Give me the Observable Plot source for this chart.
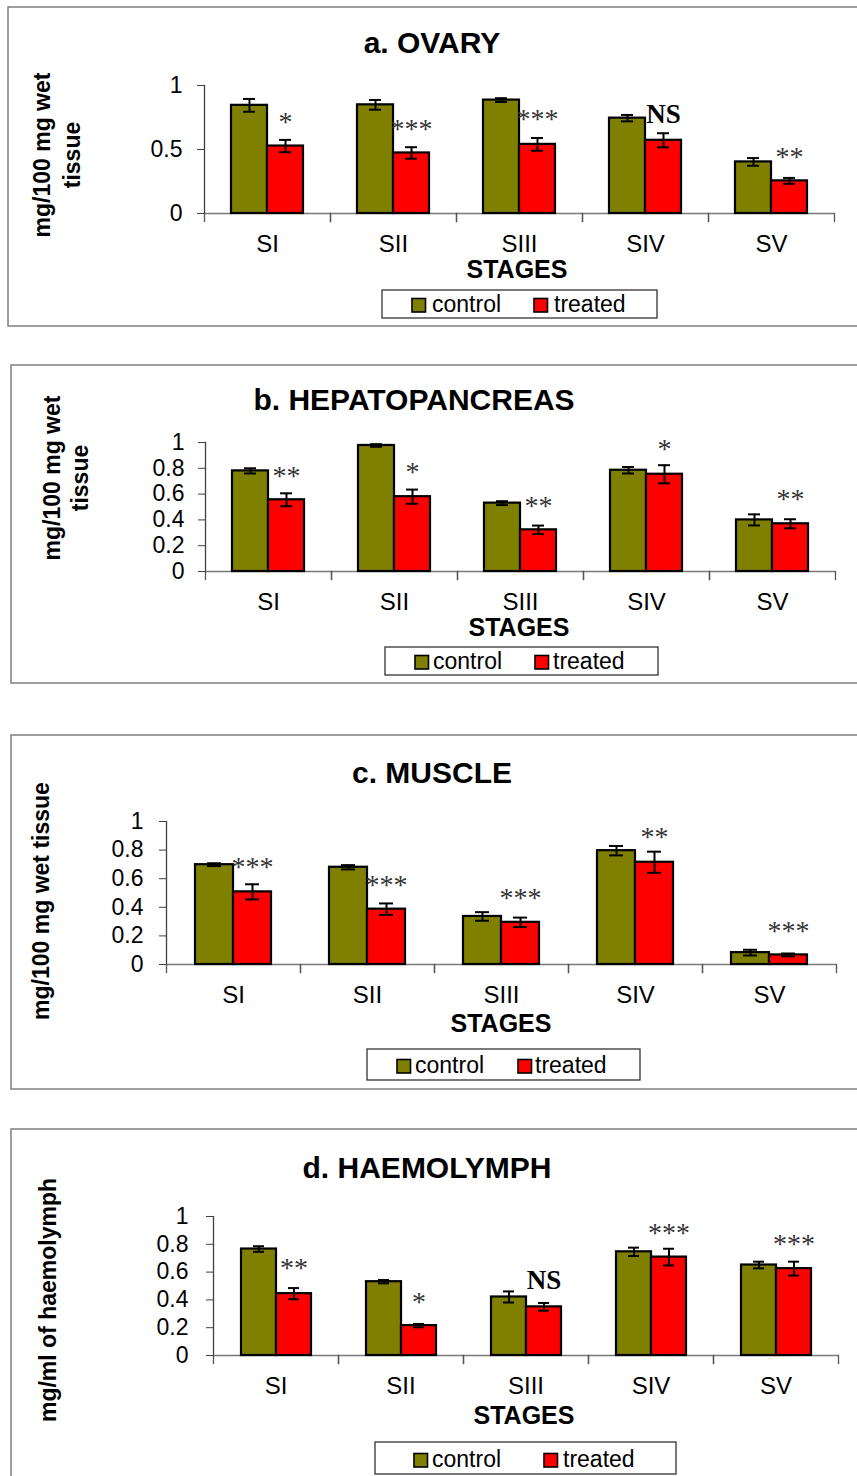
<!DOCTYPE html>
<html><head><meta charset="utf-8">
<script src="https://cdn.jsdelivr.net/npm/d3@7"></script>
<script src="https://cdn.jsdelivr.net/npm/@observablehq/plot@0.6"></script>
<style>
html,body{margin:0;padding:0;background:#fff;}
#page{position:relative;width:857px;height:1476px;overflow:hidden;font-family:"Liberation Sans",Arial,sans-serif;}
</style></head><body><div id="page"></div>
<script>
// ---------- data ----------
const stages = ["SI", "SII", "SIII", "SIV", "SV"];
const groups = ["control", "treated"];

const ovaryControl    = [0.845, 0.849, 0.886, 0.745, 0.403];
const ovaryControlErr = [0.05, 0.038, 0.015, 0.025, 0.03];
const ovaryTreated    = [0.527, 0.473, 0.54, 0.572, 0.255];
const ovaryTreatedErr = [0.048, 0.045, 0.05, 0.055, 0.023];
const ovarySig  = ["*", "***", "***", "NS", "**"];
const ovarySigY = [0.75, 0.696, 0.774, 0.774, 0.483];

const hepaControl    = [0.78, 0.977, 0.53, 0.785, 0.40];
const hepaControlErr = [0.02, 0.01, 0.015, 0.025, 0.043];
const hepaTreated    = [0.556, 0.58, 0.323, 0.754, 0.37];
const hepaTreatedErr = [0.05, 0.055, 0.033, 0.07, 0.035];
const hepaSig  = ["**", "*", "**", "*", "**"];
const hepaSigY = [0.78, 0.81, 0.55, 0.99, 0.60];

const muscleControl    = [0.698, 0.68, 0.336, 0.796, 0.083];
const muscleControlErr = [0.01, 0.015, 0.03, 0.033, 0.02];
const muscleTreated    = [0.508, 0.387, 0.295, 0.715, 0.067];
const muscleTreatedErr = [0.053, 0.04, 0.033, 0.074, 0.01];
const muscleSig  = ["***", "***", "***", "**", "***"];
const muscleSigY = [0.714, 0.594, 0.50, 0.923, 0.27];

const haemoControl    = [0.766, 0.531, 0.421, 0.746, 0.651];
const haemoControlErr = [0.02, 0.012, 0.04, 0.03, 0.024];
const haemoTreated    = [0.445, 0.215, 0.35, 0.708, 0.625];
const haemoTreatedErr = [0.04, 0.012, 0.028, 0.06, 0.05];
const haemoSig  = ["**", "*", "NS", "***", "***"];
const haemoSigY = [0.663, 0.42, 0.54, 0.92, 0.84];

const ticksHalf  = [0, 0.5, 1];
const ticksFifth = [0, 0.2, 0.4, 0.6, 0.8, 1];

// ---------- layout ----------
const W = 857, H = 1476;
const OLIVE = "#808000", RED = "#FF0000";
const panels = [
  {title: "a. OVARY", ylab: ["mg/100 mg wet", "tissue"],
   control: ovaryControl, controlErr: ovaryControlErr, treated: ovaryTreated, treatedErr: ovaryTreatedErr, sig: ovarySig, sigY: ovarySigY, yTicks: ticksHalf,
   L: {box: [8, 7, 326], x0: 202, x1: 836, y1: 85, y0: 213, tickPad: 15, titleXY: [432, 53], stagesXY: [517, 278], ylabCY: 155, ylabBX: [50, 80],
       legBox: [382, 290, 657, 318], legX: [412, 432, 534, 554], legBase: 312}},
  {title: "b. HEPATOPANCREAS", ylab: ["mg/100 mg wet", "tissue"],
   control: hepaControl, controlErr: hepaControlErr, treated: hepaTreated, treatedErr: hepaTreatedErr, sig: hepaSig, sigY: hepaSigY, yTicks: ticksFifth,
   L: {box: [11, 365, 683], x0: 203, x1: 836, y1: 442, y0: 571, tickPad: 14, titleXY: [414, 410], stagesXY: [519, 636], ylabCY: 478, ylabBX: [60, 88],
       legBox: [385, 647, 658, 675], legX: [415, 433, 535, 553], legBase: 669}},
  {title: "c. MUSCLE", ylab: ["mg/100 mg wet tissue"],
   control: muscleControl, controlErr: muscleControlErr, treated: muscleTreated, treatedErr: muscleTreatedErr, sig: muscleSig, sigY: muscleSigY, yTicks: ticksFifth,
   L: {box: [11, 735, 1089], x0: 166, x1: 836, y1: 821, y0: 964, tickPad: 16, titleXY: [432, 783], stagesXY: [501, 1032], ylabCY: 901, ylabBX: [49],
       legBox: [367, 1049, 640, 1080], legX: [397, 415, 518, 535], legBase: 1073}},
  {title: "d. HAEMOLYMPH", ylab: ["mg/ml of haemolymph"],
   control: haemoControl, controlErr: haemoControlErr, treated: haemoTreated, treatedErr: haemoTreatedErr, sig: haemoSig, sigY: haemoSigY, yTicks: ticksFifth,
   L: {box: [11, 1129, 1520], x0: 212, x1: 838, y1: 1216, y0: 1355, tickPad: 18, titleXY: [427, 1178], stagesXY: [524, 1424], ylabCY: 1300, ylabBX: [56],
       legBox: [375, 1442, 676, 1474], legX: [414, 432, 544, 563], legBase: 1467}}
];

const page = document.getElementById("page");
const SANS = "'Liberation Sans', Arial, sans-serif";
const SERIF = "'Liberation Serif', 'Times New Roman', serif";

// static overlay: boxes, titles, axis titles, legends
const over = d3.select(page).append("svg")
  .attr("width", W).attr("height", H)
  .style("position", "absolute").style("left", 0).style("top", 0)
  .attr("font-family", SANS);

for (const p of panels) {
  const L = p.L;
  over.append("rect").attr("x", L.box[0]).attr("y", L.box[1]).attr("width", 900).attr("height", L.box[2] - L.box[1])
    .attr("fill", "none").attr("stroke", "#7f7f7f").attr("stroke-width", 1.5);
  over.append("text").attr("x", L.titleXY[0]).attr("y", L.titleXY[1]).attr("text-anchor", "middle")
    .attr("font-size", 30).attr("font-weight", "bold").text(p.title);
  over.append("text").attr("x", L.stagesXY[0]).attr("y", L.stagesXY[1]).attr("text-anchor", "middle")
    .attr("font-size", 25).attr("font-weight", "bold").text("STAGES");
  const g = over.append("g").attr("transform", `translate(0,${L.ylabCY}) rotate(-90)`);
  p.ylab.forEach((line, i) => g.append("text").attr("x", 0).attr("y", L.ylabBX[i]).attr("text-anchor", "middle")
    .attr("font-size", 23).attr("font-weight", "bold").text(line));
  // legend
  const lb = L.legBox;
  over.append("rect").attr("x", lb[0]).attr("y", lb[1]).attr("width", lb[2] - lb[0]).attr("height", lb[3] - lb[1])
    .attr("fill", "white").attr("stroke", "#333").attr("stroke-width", 1.3);
  groups.forEach((grp, i) => {
    over.append("rect").attr("x", L.legX[2 * i]).attr("y", L.legBase - 13.5).attr("width", 13.5).attr("height", 13.5)
      .attr("fill", i === 0 ? OLIVE : RED).attr("stroke", "black").attr("stroke-width", 1.6);
    over.append("text").attr("x", L.legX[2 * i + 1]).attr("y", L.legBase).attr("font-size", 23).text(grp);
  });
}

// charts
for (const p of panels) {
  const L = p.L;
  const rows = stages.flatMap((s, i) => [
    {stage: s, group: "control", value: p.control[i], err: p.controlErr[i]},
    {stage: s, group: "treated", value: p.treated[i], err: p.treatedErr[i]}
  ]);
  const notes = stages.map((s, i) => ({stage: s, group: "treated", y: p.sigY[i], text: p.sig[i]}));
  const plotH = L.y0 - L.y1;
  const mt = 20, mb = 60;
  const errStyle = {fx: "stage", x: "group", stroke: "black", strokeWidth: 2};
  const chart = Plot.plot({
    width: W, height: plotH + mt + mb,
    marginTop: mt, marginBottom: mb, marginLeft: L.x0, marginRight: W - L.x1,
    style: {background: "transparent", color: "black", fontFamily: SANS, overflow: "visible"},
    fx: {domain: stages, padding: 0, label: null},
    x: {domain: groups, paddingInner: 0, paddingOuter: 0.74, axis: null},
    y: {domain: [0, 1], axis: null},
    color: {domain: groups, range: [OLIVE, RED]},
    marks: [
      Plot.ruleY([0], {stroke: "#7a7a7a", strokeWidth: 1.5}),
      Plot.frame({anchor: "left", facetAnchor: "left", stroke: "#404040", strokeWidth: 1.3}),
      Plot.frame({anchor: "left", insetTop: plotH, insetBottom: -8, stroke: "#555", strokeWidth: 1.3}),
      Plot.frame({anchor: "right", insetTop: plotH, insetBottom: -8, stroke: "#555", strokeWidth: 1.3}),
      Plot.axisY({facetAnchor: "left", ticks: p.yTicks, tickFormat: v => String(v), tickSize: 7,
        tickPadding: L.tickPad, fontSize: 23, stroke: "#404040", label: null}),
      Plot.barY(rows, {fx: "stage", x: "group", y: "value", fill: "group", stroke: "black", strokeWidth: 2.2}),
      Plot.ruleX(rows, {...errStyle, y1: r => r.value - r.err, y2: r => r.value + r.err}),
      Plot.tickY(rows, {...errStyle, y: r => r.value - r.err, inset: 12}),
      Plot.tickY(rows, {...errStyle, y: r => r.value + r.err, inset: 12}),
      Plot.text(notes.filter(n => n.text !== "NS"), {fx: "stage", x: "group", y: "y", text: "text",
        fontFamily: SERIF, fontSize: 28, fill: "#333", dy: 5}),
      Plot.text(notes.filter(n => n.text === "NS"), {fx: "stage", x: "group", y: "y", text: "text",
        fontFamily: SERIF, fontSize: 27, fontWeight: "bold", fill: "black"}),
      Plot.axisFx({anchor: "bottom", tickSize: 0, tickPadding: 21, fontSize: 24, label: null})
    ]
  });
  chart.style.position = "absolute";
  chart.style.left = "0px";
  chart.style.top = (L.y1 - mt) + "px";
  page.append(chart);
}
</script>
</body></html>
